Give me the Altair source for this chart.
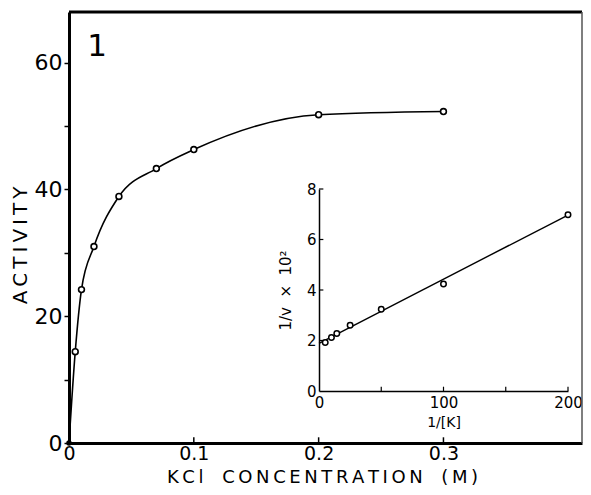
import altair as alt
import pandas as pd

# Main panel: activity vs KCl concentration
kcl = [0, 0.005, 0.01, 0.02, 0.04, 0.07, 0.1, 0.2, 0.3]
activity = [0, 14.4, 24.2, 31.0, 38.9, 43.3, 46.3, 51.8, 52.3]
main_xticks = [0, 0.1, 0.2, 0.3]
main_yticks = [0, 10, 20, 30, 40, 50, 60]
main_xmax = 0.411
main_ymax = 68

# Inset: double reciprocal plot
inv_k = [5, 10, 14.3, 25, 50, 100, 200]
inv_v = [1.92, 2.12, 2.28, 2.6, 3.24, 4.24, 6.98]
fit_k = [0, 200]
fit_v = [1.89, 6.97]
inset_xticks = [0, 50, 100, 150, 200]
inset_yticks = [0, 2, 4, 6, 8]

W, H = 513, 431
FONT = "DejaVu Sans"
NB = "\u00a0"
TS = "\u2009"


def spaced(words, gap):
    return gap.join(TS.join(w) for w in words)


x_title = spaced(["KCl", "CONCENTRATION", "(M)"], TS + NB + NB + TS)
y_title = spaced(["ACTIVITY"], NB)

main_df = pd.DataFrame({"kcl": kcl, "act": activity})
xs = alt.Scale(domain=[0, main_xmax], nice=False, zero=False)
ys = alt.Scale(domain=[0, main_ymax], nice=False)

x_axis = alt.Axis(values=main_xticks, format=".1~f", title=x_title,
                  titleFont=FONT, titleFontSize=18, titleFontWeight="normal", titleColor="black",
                  titleBaseline="middle", titleY=34, titleX=253,
                  labelFont=FONT, labelFontSize=19, labelColor="black", labelPadding=1,
                  tickSize=0, domainWidth=3, domainColor="black", grid=False, labelFlush=False)
y_axis = alt.Axis(values=main_yticks, labelExpr="datum.value % 20 == 0 ? datum.label : ''",
                  title=y_title, titleFont=FONT, titleFontSize=20, titleFontWeight="normal",
                  titleColor="black", titleBaseline="middle", titleX=-49, titleY=233,
                  labelFont=FONT, labelFontSize=22, labelColor="black", labelPadding=2,
                  tickSize=5, tickWidth=1.5, tickColor="black",
                  domainWidth=3, domainColor="black", grid=False, labelFlush=False)


def mx(field):
    return alt.X(field, type="quantitative", scale=xs, axis=x_axis)


def my(field):
    return alt.Y(field, type="quantitative", scale=ys, axis=y_axis)


base = alt.Chart(main_df)
curve = base.mark_line(color="black", strokeWidth=1.6, interpolate="monotone").encode(
    x=mx("kcl"), y=my("act"))
circles = base.transform_filter("datum.kcl > 0").mark_point(
    shape="circle", filled=True, fill="white", stroke="black", strokeWidth=1.6, size=34, opacity=1
).encode(x=mx("kcl"), y=my("act"))
origin = base.transform_filter("datum.kcl == 0").mark_point(
    shape="circle", filled=True, color="black", size=30, opacity=1
).encode(x=mx("kcl"), y=my("act"))

frame_df = pd.DataFrame({"x0": [0], "x1": [main_xmax], "y0": [0], "y1": [main_ymax]})
top_rule = alt.Chart(frame_df).mark_rule(color="black", strokeWidth=3).encode(
    x=mx("x0"), x2="x1:Q", y=my("y1"))
right_rule = alt.Chart(frame_df).mark_rule(color="#555", strokeWidth=1.5).encode(
    x=mx("x1"), y=my("y0"), y2="y1:Q")

xtick_df = pd.DataFrame({"t": main_xticks[1:], "a": [0] * 3, "b": [0.9] * 3})
xticks = alt.Chart(xtick_df).mark_rule(color="black", strokeWidth=1.5).encode(
    x=mx("t"), y=my("a"), y2="b:Q")

panel_label = alt.Chart(frame_df).mark_text(
    text="1", font=FONT, fontSize=31, color="black", align="center", baseline="middle"
).encode(x=alt.value(28), y=alt.value(35))

main = alt.layer(curve, circles, origin, top_rule, right_rule, xticks, panel_label)

# Inset
in_df = pd.DataFrame({"k": inv_k, "v": inv_v})
fit_df = pd.DataFrame({"k": fit_k, "v": fit_v})
ixs = alt.Scale(domain=[0, 200], range=[250, 499], nice=False, zero=False)
iys = alt.Scale(domain=[0, 8], range=[379, 177], nice=False, zero=False)

ix_axis = alt.Axis(values=inset_xticks, orient="bottom", offset=-(H - 379), title="1/[K]",
                   titleFont=FONT, titleFontSize=14, titleFontWeight="normal", titleColor="black",
                   titleBaseline="middle", titleY=31,
                   labelFont=FONT, labelFontSize=15, labelColor="black", labelPadding=4,
                   tickSize=0, domainWidth=1.5, domainColor="black", grid=False, labelFlush=False,
                   labelExpr="datum.value % 100 == 0 ? datum.label : ''")
iy_axis = alt.Axis(values=inset_yticks, orient="left", offset=-250,
                   title=f"1/v{NB}{NB}×{NB}{NB}10²",
                   titleFont=FONT, titleFontSize=15, titleFontWeight="normal", titleColor="black",
                   titleBaseline="middle", titleX=-34,
                   labelFont=FONT, labelFontSize=15, labelColor="black", labelPadding=3,
                   tickSize=0, domainWidth=1.5, domainColor="black", grid=False, labelFlush=False)


def ix(field):
    return alt.X(field, type="quantitative", scale=ixs, axis=ix_axis)


def iy(field):
    return alt.Y(field, type="quantitative", scale=iys, axis=iy_axis)


fit_line = alt.Chart(fit_df).mark_line(color="black", strokeWidth=1.4).encode(x=ix("k"), y=iy("v"))
in_pts = alt.Chart(in_df).mark_point(
    shape="circle", filled=True, fill="white", stroke="black", strokeWidth=1.5, size=30, opacity=1
).encode(x=ix("k"), y=iy("v"))

iyt_df = pd.DataFrame({"t": inset_yticks[1:], "a": [0] * 4, "b": [3.5] * 4})
iyticks = alt.Chart(iyt_df).mark_rule(color="black", strokeWidth=1.2).encode(
    y=iy("t"), x=ix("a"), x2="b:Q")
ixt_df = pd.DataFrame({"t": inset_xticks[1:], "a": [0] * 4, "b": [0.17] * 4})
ixticks = alt.Chart(ixt_df).mark_rule(color="black", strokeWidth=1.2).encode(
    x=ix("t"), y=iy("a"), y2="b:Q")

inset = alt.layer(fit_line, in_pts, iyticks, ixticks)

chart = alt.layer(main, inset).resolve_scale(x="independent", y="independent").properties(
    width=W, height=H, autosize="none",
    padding={"left": 61, "top": 4, "right": 1, "bottom": 44},
).configure_view(stroke=None)

chart.save("out.html", embed_options={"renderer": "svg", "actions": False})
